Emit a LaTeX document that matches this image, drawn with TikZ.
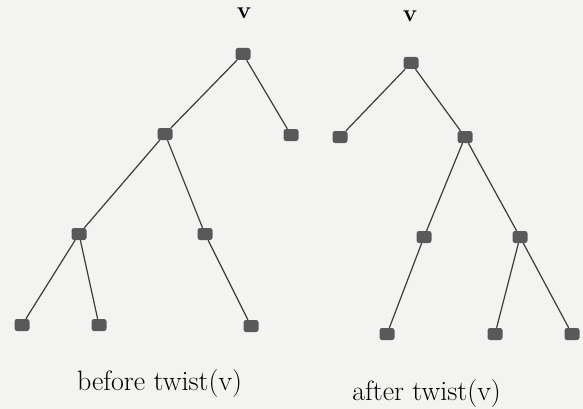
\documentclass[tikz,border=0pt]{standalone}
\usepackage{tikz}
\usetikzlibrary{calc}
\definecolor{paper}{RGB}{243,243,241}
\definecolor{ink}{RGB}{60,60,60}
\tikzset{
  vertex/.style = {rectangle, rounded corners=2.5pt, inner sep=0pt,
    minimum width=15pt, minimum height=12pt, fill=ink!85},
  branch/.style = {draw=ink, line width=1.2pt},
  caption/.style = {anchor=base, inner sep=0pt, font=\fontsize{28}{32}\selectfont}
}
\begin{document}
\begin{tikzpicture}[x=1pt,y=-1pt]

  \fill[paper] (0,0) rectangle (583,409);
  \useasboundingbox (0,0) rectangle (583,409);

  \foreach \n/\x/\y in {r1/243/54, a1/165/134, b1/291/135, c1/79/234,
                        d1/205/234, e1/22/325, f1/99/325, g1/251/326,
                        r2/411/63, a2/340/137, b2/465/137, c2/424/237,
                        d2/520/237, e2/387/334, f2/495/334, g2/572/334}{
    \node[vertex] (\n) at (\x,\y) {};
  }

  \foreach \a/\b in {r1/a1, r1/b1, a1/c1, a1/d1, c1/e1, c1/f1, d1/g1,
                     r2/a2, r2/b2, b2/c2, b2/d2, c2/e2, d2/f2, d2/g2}{
    \draw[branch] (\a) -- (\b);
  }

  \node[font=\fontsize{24}{28}\selectfont\bfseries] (v1) at (244,13) {v};
  \node[font=\fontsize{24}{28}\selectfont\bfseries] (v2) at (410,16) {v};

  \node[caption] (before) at (159.5,390) {before twist(v)};
  \node[caption] (after) at (426.5,400) {after twist(v)};

\end{tikzpicture}
\end{document}
